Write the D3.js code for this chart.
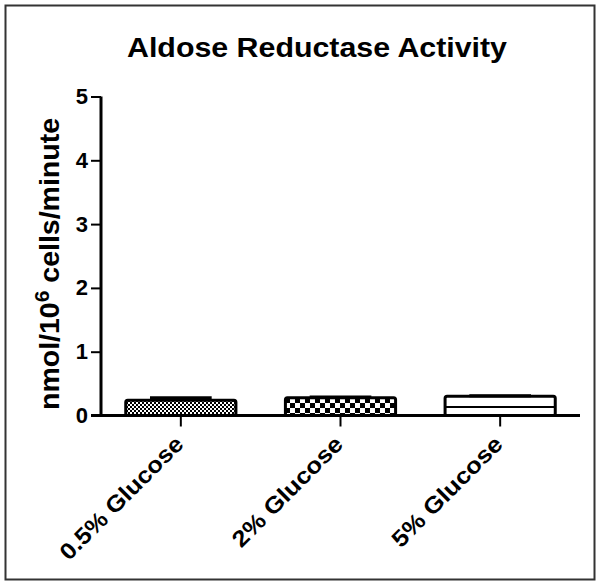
<!DOCTYPE html>
<html>
<head>
<meta charset="utf-8">
<script src="https://cdn.jsdelivr.net/npm/d3@7"></script>
<style>
  html, body { margin: 0; padding: 0; background: #fff; }
  svg { display: block; }
  text { font-family: "Liberation Sans", Arial, sans-serif; font-weight: bold; fill: #000; }
</style>
</head>
<body>
<svg id="chart" width="602" height="586"></svg>
<script>
const title = "Aldose Reductase Activity";
const categories = ["0.5% Glucose", "2% Glucose", "5% Glucose"];
const values = [0.24, 0.28, 0.30];
const errors = [0.04, 0.01, 0.01];
const patterns = ["fineCheck", "coarseCheck", "hStripe"];
const yTicks = [0, 1, 2, 3, 4, 5];
const yDomain = [0, 5];

const svg = d3.select("#chart");
const W = 602, H = 586;

// outer frame
svg.append("rect").attr("x", 5.5).attr("y", 5.5).attr("width", 589).attr("height", 574)
  .attr("fill", "#fff").attr("stroke", "#333").attr("stroke-width", 2);

const margin = {left: 101, right: 22, top: 96.5, bottom: 170.5};
const x = d3.scaleBand().domain(categories).range([margin.left, W - margin.right])
  .paddingInner(0.31).paddingOuter(0.155);
const y = d3.scaleLinear().domain(yDomain).range([H - margin.bottom, margin.top]);

// patterns
const defs = svg.append("defs");
const p1 = defs.append("pattern").attr("id", "fineCheck").attr("patternUnits", "userSpaceOnUse")
  .attr("width", 4).attr("height", 4);
p1.append("rect").attr("width", 4).attr("height", 4).attr("fill", "#fff");
p1.append("rect").attr("width", 2).attr("height", 2).attr("fill", "#000");
p1.append("rect").attr("x", 2).attr("y", 2).attr("width", 2).attr("height", 2).attr("fill", "#000");

const p2 = defs.append("pattern").attr("id", "coarseCheck").attr("patternUnits", "userSpaceOnUse")
  .attr("width", 10).attr("height", 10).attr("patternTransform", "translate(0,3)");
p2.append("rect").attr("width", 10).attr("height", 10).attr("fill", "#fff");
p2.append("rect").attr("width", 5).attr("height", 5).attr("fill", "#000");
p2.append("rect").attr("x", 5).attr("y", 5).attr("width", 5).attr("height", 5).attr("fill", "#000");

const p3 = defs.append("pattern").attr("id", "hStripe").attr("patternUnits", "userSpaceOnUse")
  .attr("width", 10).attr("height", 16).attr("patternTransform", "translate(0,6)");
p3.append("rect").attr("width", 10).attr("height", 16).attr("fill", "#fff");
p3.append("rect").attr("y", 0).attr("width", 10).attr("height", 2).attr("fill", "#000");

// bars
const g = svg.append("g");
g.selectAll("rect.bar").data(categories).join("rect").attr("class", "bar")
  .attr("x", d => x(d))
  .attr("y", (d, i) => y(values[i]))
  .attr("width", x.bandwidth())
  .attr("height", (d, i) => y(0) - y(values[i]))
  .attr("rx", 2)
  .attr("fill", (d, i) => `url(#${patterns[i]})`)
  .attr("stroke", "#000").attr("stroke-width", 3);

// error caps
g.selectAll("line.err").data(categories).join("line").attr("class", "err")
  .attr("x1", d => x(d) + x.bandwidth() * 0.22)
  .attr("x2", d => x(d) + x.bandwidth() * 0.78)
  .attr("y1", (d, i) => y(values[i] + errors[i]))
  .attr("y2", (d, i) => y(values[i] + errors[i]))
  .attr("stroke", "#000").attr("stroke-width", 3);
g.selectAll("line.errv").data(categories).join("line").attr("class", "errv")
  .attr("x1", d => x(d) + x.bandwidth() / 2)
  .attr("x2", d => x(d) + x.bandwidth() / 2)
  .attr("y1", (d, i) => y(values[i] + errors[i]))
  .attr("y2", (d, i) => y(values[i]))
  .attr("stroke", "#000").attr("stroke-width", 3);

// y axis
const yAxis = svg.append("g").attr("transform", `translate(${margin.left},0)`)
  .call(d3.axisLeft(y).tickValues(yTicks).tickFormat(d3.format("d")).tickSize(10).tickPadding(3));
yAxis.select(".domain").attr("stroke", "#000").attr("stroke-width", 3)
  .attr("d", `M0,${y(5)}V${y(0)}`);
yAxis.selectAll(".tick line").attr("stroke", "#000").attr("stroke-width", 2);
yAxis.selectAll(".tick text").style("font-size", "22px").style("font-family", "Liberation Sans, Arial, sans-serif")
  .style("font-weight", "bold").attr("fill", "#000");

// x axis
const xAxis = svg.append("g").attr("transform", `translate(0,${y(0)})`)
  .call(d3.axisBottom(x).tickSize(11).tickFormat(""));
xAxis.select(".domain").attr("stroke", "#000").attr("stroke-width", 3)
  .attr("d", `M${margin.left - 10},0H${W - margin.right}`);
xAxis.selectAll(".tick line").attr("stroke", "#000").attr("stroke-width", 2);

// x labels rotated
const labLen = [164, 146, 146];
svg.selectAll("text.xlab").data(categories).join("text").attr("class", "xlab")
  .attr("transform", d => `translate(${x(d) + x.bandwidth() / 2 + 4},${y(0) + 30}) rotate(-45)`)
  .attr("text-anchor", "end")
  .attr("textLength", (d, i) => labLen[i])
  .attr("lengthAdjust", "spacingAndGlyphs")
  .style("font-size", "23px")
  .text(d => d);

// title
svg.append("text").attr("x", 317).attr("y", 57).attr("text-anchor", "middle")
  .attr("textLength", 380).attr("lengthAdjust", "spacingAndGlyphs")
  .style("font-size", "27px").text(title);

// y title
const yt = svg.append("text").attr("transform", `translate(59,${264}) rotate(-90)`)
  .attr("text-anchor", "middle").style("font-size", "27px")
  .attr("textLength", 292).attr("lengthAdjust", "spacingAndGlyphs");
yt.append("tspan").text("nmol/10");
yt.append("tspan").attr("dy", -10).style("font-size", "20px").text("6");
yt.append("tspan").attr("dy", 10).text(" cells/minute");
</script>
</body>
</html>
